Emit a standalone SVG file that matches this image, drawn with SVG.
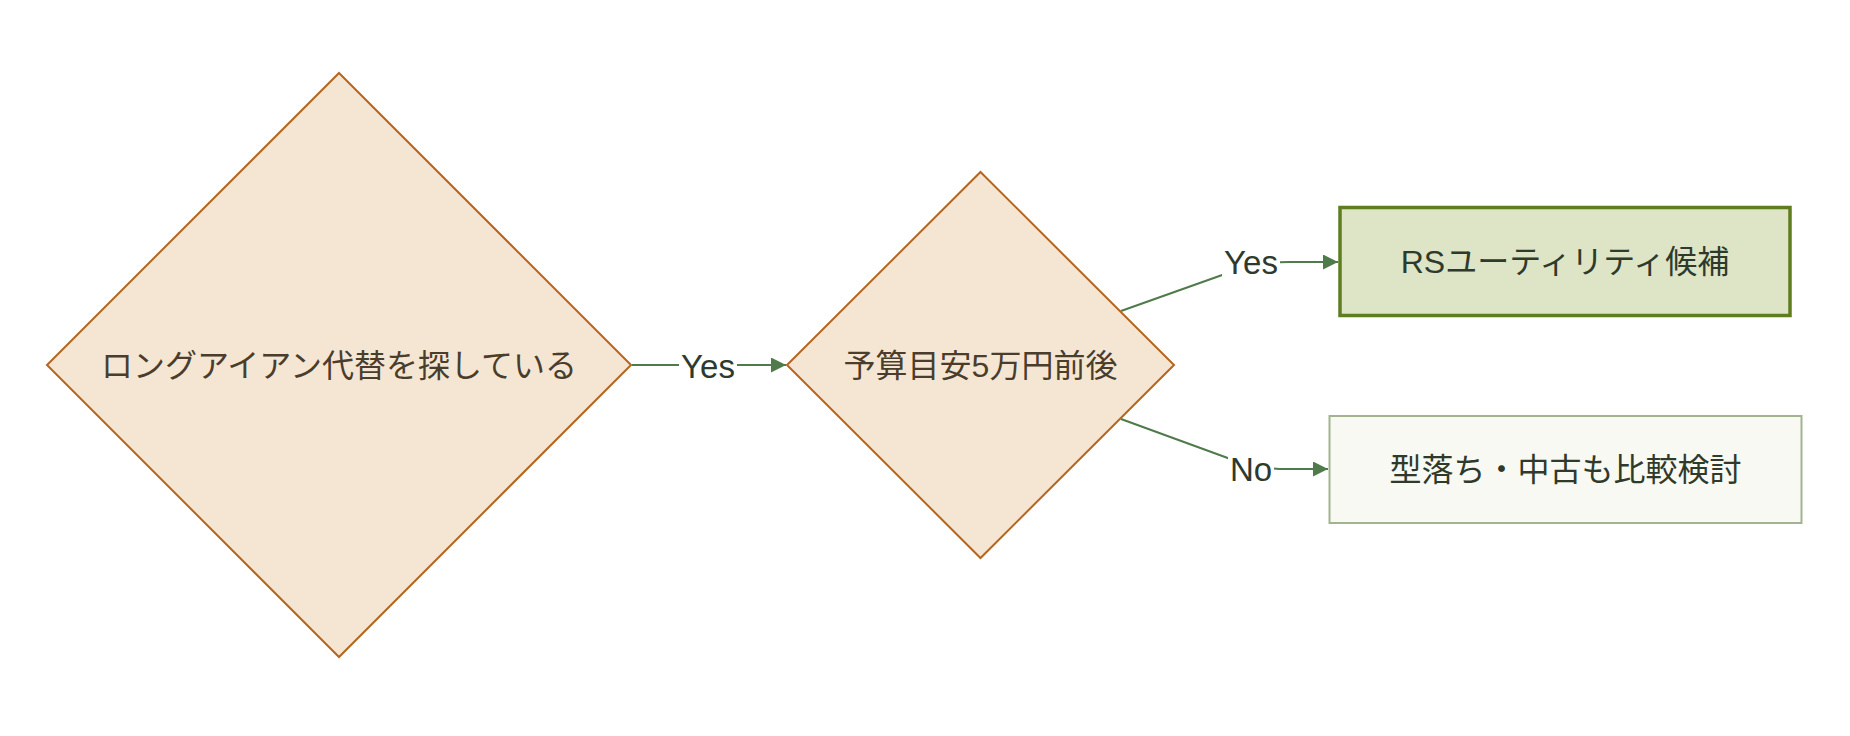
<svg xmlns="http://www.w3.org/2000/svg" width="1850" height="736" viewBox="0 0 1850 736">
<defs>
<style>
.dec{fill:#f5e6d4;stroke:#b5651d;stroke-width:2}
.ntxt{font-family:"Liberation Sans","Noto Sans CJK JP",sans-serif;font-size:32px;fill:#4a3d2c;text-anchor:middle;dominant-baseline:central}
.btxt{font-family:"Liberation Sans","Noto Sans CJK JP",sans-serif;font-size:32px;fill:#2f3a2b;text-anchor:middle;dominant-baseline:central}
.edge{fill:none;stroke:#4f7a4a;stroke-width:2}
.lbl{font-family:"Liberation Sans","Noto Sans CJK JP",sans-serif;font-size:33px;fill:#2d3a2d;text-anchor:middle;dominant-baseline:central}
.lblbg{fill:#ffffff}
</style>
<marker id="arr" viewBox="0 0 10 10" refX="10" refY="5" markerWidth="18" markerHeight="15" markerUnits="userSpaceOnUse" orient="auto">
<path d="M0,0 L10,5 L0,10 Z" fill="#4f7a4a"/>
</marker>
</defs>
<rect width="1850" height="736" fill="#ffffff"/>
<g id="connectors">
<path class="edge" d="M632,365 L786,365" marker-end="url(#arr)"/>
<path class="edge" d="M1121,311 L1225,274 C1248,266 1265,262 1290,262 L1338,262" marker-end="url(#arr)"/>
<path class="edge" d="M1121,419 L1225,457 C1248,466 1265,469 1290,469 L1328,469" marker-end="url(#arr)"/>
<g id="label-yes1">
<rect class="lblbg" x="679" y="347" width="58" height="36"/>
<text class="lbl" x="708" y="366">Yes</text>
</g>
<g id="label-yes2">
<rect class="lblbg" x="1222" y="244" width="58" height="36"/>
<text class="lbl" x="1251" y="262">Yes</text>
</g>
<g id="label-no">
<rect class="lblbg" x="1228" y="451" width="46" height="36"/>
<text class="lbl" x="1251" y="469">No</text>
</g>
</g>
<g id="node-long">
<polygon class="dec" points="339,73 631,365 339,657 47,365"/>
<text class="ntxt" x="339" y="366">ロングアイアン代替を探している</text>
</g>
<g id="node-budget">
<polygon class="dec" points="980.5,172 1174,365 980.5,558 787,365"/>
<text class="ntxt" x="980.5" y="366">予算目安5万円前後</text>
</g>
<g id="node-rs">
<rect x="1340" y="207.5" width="450" height="108" fill="#dde5c6" stroke="#5e7d1f" stroke-width="3.5"/>
<text class="btxt" x="1565" y="262">RSユーティリティ候補</text>
</g>
<g id="node-old">
<rect x="1329.5" y="416" width="472" height="107" fill="#f8f9f3" stroke="#a3b391" stroke-width="2"/>
<text class="btxt" x="1565.5" y="470">型落ち・中古も比較検討</text>
</g>
</svg>
